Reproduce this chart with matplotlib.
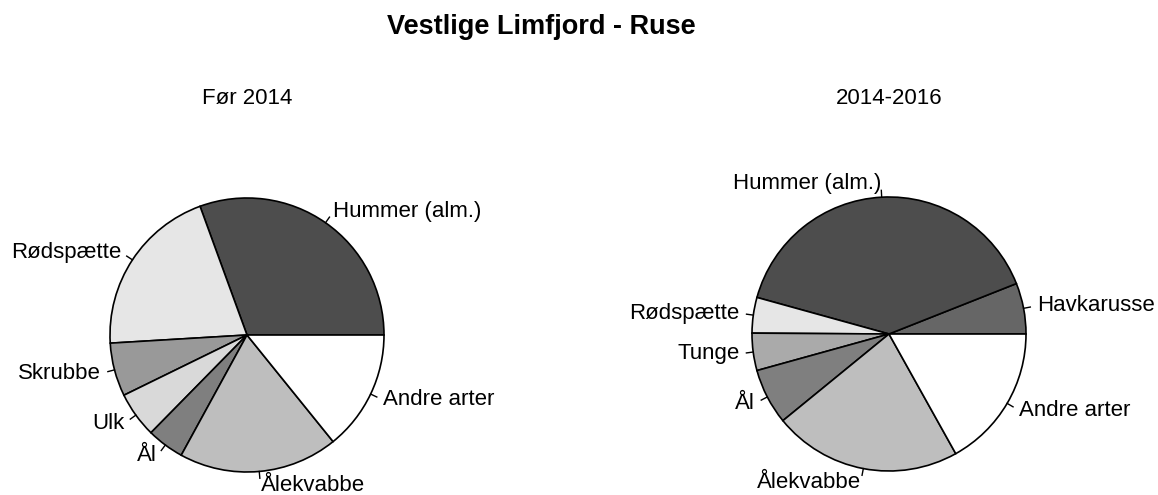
import numpy as np
import matplotlib
matplotlib.use("Agg")
import matplotlib.pyplot as plt

plt.rcParams['font.family'] = ['Liberation Sans', 'DejaVu Sans']

# andele (grader omregnet til procent), læst af figuren
left_labels = ['Hummer (alm.)', 'Rødspætte', 'Skrubbe', 'Ulk', 'Ål', 'Ålekvabbe', 'Andre arter']
left_values = [30.6, 20.4, 6.3, 5.4, 4.4, 18.8, 14.2]
left_colors = ['#4d4d4d', '#e6e6e6', '#999999', '#d9d9d9', '#7f7f7f', '#bebebe', '#ffffff']

right_labels = ['Havkarusse', 'Hummer (alm.)', 'Rødspætte', 'Tunge', 'Ål', 'Ålekvabbe', 'Andre arter']
right_values = [6.0, 39.7, 4.2, 4.4, 6.6, 22.2, 16.9]
right_colors = ['#666666', '#4d4d4d', '#e6e6e6', '#aaaaaa', '#7f7f7f', '#bebebe', '#ffffff']

W, H = 1158, 495
R = 137


def draw_pie(cx, cy, values, labels, colors, subtitle):
    # cx, cy i pixels fra øverste venstre hjørne
    ax = fig.add_axes([(cx - R) / W, (H - cy - R) / H, 2 * R / W, 2 * R / H])
    wedges, _ = ax.pie(values, colors=colors, startangle=0, counterclock=True,
                       radius=1, wedgeprops=dict(edgecolor='black', linewidth=1.2))
    ax.set_xlim(-1, 1)
    ax.set_ylim(-1, 1)
    ax.set_aspect('auto')
    ax.axis('off')
    for w, lab in zip(wedges, labels):
        mid = np.deg2rad((w.theta1 + w.theta2) / 2)
        c, s = np.cos(mid), np.sin(mid)
        ax.plot([c, 1.05 * c], [s, 1.05 * s], color='black', lw=1, clip_on=False)
        ax.text(1.1 * c, 1.1 * s, lab, ha='left' if c > 0 else 'right', va='center',
                fontsize=16, clip_on=False)
    fig.text(cx / W, 1 - 104 / H, subtitle, ha='center', va='baseline', fontsize=16)


fig = plt.figure(figsize=(W / 100, H / 100), dpi=100)
fig.text(541 / W, 1 - 34 / H, 'Vestlige Limfjord - Ruse', ha='center', va='baseline',
         fontsize=19.5, fontweight='bold')

draw_pie(247, 335, left_values, left_labels, left_colors, 'Før 2014')
draw_pie(889, 334, right_values, right_labels, right_colors, '2014-2016')

fig.savefig('out.png', dpi=100, facecolor='white')
